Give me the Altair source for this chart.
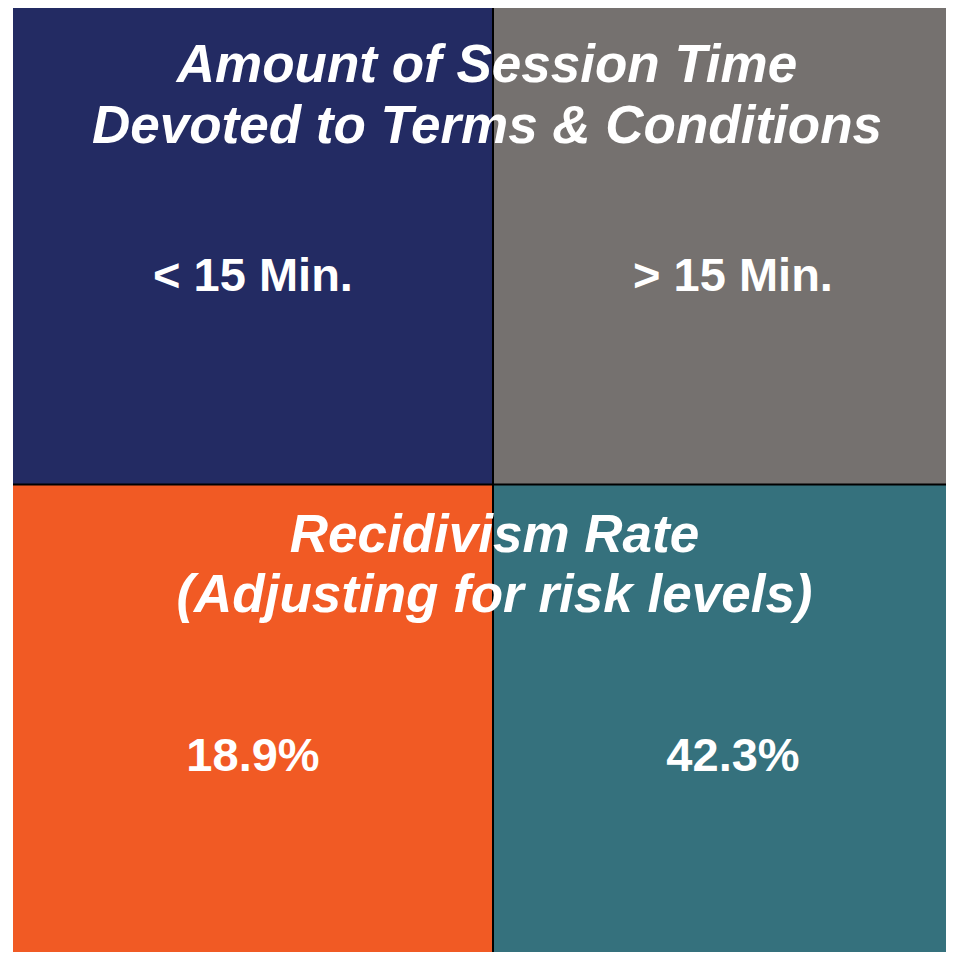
import altair as alt
import pandas as pd

# --- data ---
columns = ["< 15 Min.", "> 15 Min."]
rates = ["18.9%", "42.3%"]
top_colors = ["#232B63", "#75716F"]
bottom_colors = ["#F15A24", "#35717D"]
header_title = ["Amount of Session Time", "Devoted to Terms & Conditions"]
rate_title = ["Recidivism Rate", "(Adjusting for risk levels)"]

cells = pd.DataFrame({
    "col": [0, 1, 0, 1],
    "row": [0, 0, 1, 1],
    "color": top_colors + bottom_colors,
    "label": columns + rates,
})

xs = alt.Scale(domain=[0, 2], range=[0, 960])
ys = alt.Scale(domain=[0, 2], range=[-3.5, 956.5])

base = alt.Chart(cells)

rects = base.transform_calculate(
    x2="datum.col + 1", y2="datum.row + 1"
).mark_rect(strokeWidth=0).encode(
    x=alt.X("col:Q", scale=xs, axis=None),
    x2="x2:Q",
    y=alt.Y("row:Q", scale=ys, axis=None),
    y2="y2:Q",
    color=alt.Color("color:N", scale=None, legend=None),
)

rule_v = alt.Chart(pd.DataFrame({"b": [1]})).mark_rule(color="black", strokeWidth=2).encode(
    x=alt.X("b:Q", scale=xs, axis=None)
)
rule_h = alt.Chart(pd.DataFrame({"b": [1]})).mark_rule(color="black", strokeWidth=2).encode(
    y=alt.Y("b:Q", scale=ys, axis=None)
)

labels = base.transform_calculate(
    lx="datum.col + 0.5", ly="datum.row + 0.597"
).mark_text(
    font="Liberation Sans", fontSize=47, fontWeight="bold", color="white",
    align="center", baseline="alphabetic"
).encode(
    x=alt.X("lx:Q", scale=xs, axis=None),
    y=alt.Y("ly:Q", scale=ys, axis=None),
    text="label:N",
)

def title_line(txt, xd, yd):
    return alt.Chart(pd.DataFrame({"t": [txt]})).mark_text(
        font="Liberation Sans", fontSize=53, fontWeight="bold", fontStyle="italic",
        color="white", align="center", baseline="alphabetic"
    ).encode(
        x=alt.X(datum=xd, type="quantitative", scale=xs, axis=None),
        y=alt.Y(datum=yd, type="quantitative", scale=ys, axis=None),
        text="t:N",
    )

titles = [
    title_line(header_title[0], 0.9875, 0.1615),
    title_line(header_title[1], 0.9875, 0.2885),
    title_line(rate_title[0], 1.003, 1.1406),
    title_line(rate_title[1], 1.003, 1.2656),
]

chart = alt.layer(rects, rule_v, rule_h, labels, *titles).properties(
    width=933, height=944,
    autosize=alt.AutoSizeParams(type="none"),
    padding={"left": 5, "top": 0, "right": 0, "bottom": 0},
    background="white",
).configure_view(stroke=None)

chart.save("out.html", embed_options={"renderer": "svg", "actions": False})
